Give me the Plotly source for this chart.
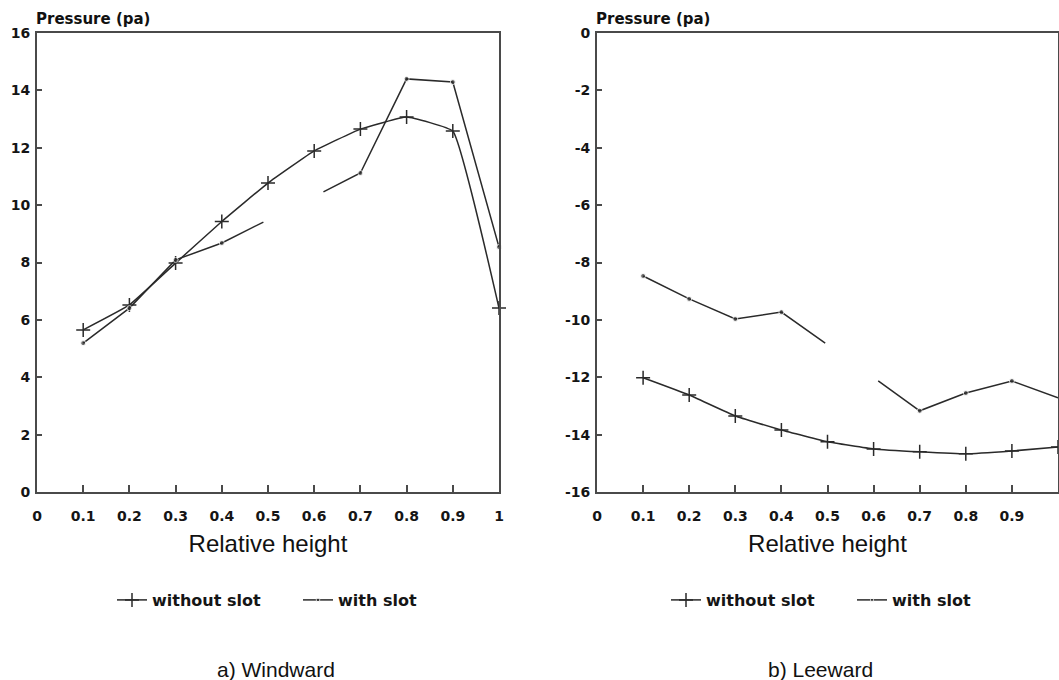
import plotly.graph_objects as go

# ---------------- data ----------------
heights = [0.1, 0.2, 0.3, 0.4, 0.5, 0.6, 0.7, 0.8, 0.9, 1.0]

# a) Windward
wind_without = [5.65, 6.52, 7.98, 9.43, 10.77, 11.89, 12.65, 13.07, 12.58, 6.41]
# with slot: the line is interrupted between x=0.49 and x=0.62
wind_with_x = [0.1, 0.2, 0.3, 0.4, 0.49, None, 0.62, 0.7, 0.8, 0.9, 1.0]
wind_with_y = [5.19, 6.41, 8.09, 8.68, 9.41, None, 10.46, 11.12, 14.40, 14.29, 8.54]
wind_with_marker = [1, 1, 1, 1, 0, 0, 0, 1, 1, 1, 1]

# b) Leeward
lee_without = [-12.02, -12.62, -13.35, -13.84, -14.25, -14.50, -14.60, -14.67, -14.57, -14.43]
lee_with_x = [0.1, 0.2, 0.3, 0.4, 0.495, None, 0.61, 0.7, 0.8, 0.9, 1.0]
lee_with_y = [-8.47, -9.27, -9.97, -9.73, -10.81, None, -12.13, -13.17, -12.55, -12.13, -12.72]
lee_with_marker = [1, 1, 1, 1, 0, 0, 0, 1, 1, 1, 0]

x_ticks = [0, 0.1, 0.2, 0.3, 0.4, 0.5, 0.6, 0.7, 0.8, 0.9, 1]
x_labels = ["0", "0.1", "0.2", "0.3", "0.4", "0.5", "0.6", "0.7", "0.8", "0.9", "1"]
wind_y_ticks = [0, 2, 4, 6, 8, 10, 12, 14, 16]
wind_y_labels = ["0", "2", "4", "6", "8", "10", "12", "14", "16"]
lee_y_ticks = [0, -2, -4, -6, -8, -10, -12, -14, -16]
lee_y_labels = ["0", "-2", "-4", "-6", "-8", "-10", "-12", "-14", "-16"]

series_names = ["without slot", "with slot"]
captions = ["a) Windward", "b) Leeward"]
y_title = "Pressure (pa)"
x_title = "Relative height"

# ---------------- style ----------------
W, H = 1059, 680
INK = "#2a2a2a"
FRAME = "#4a4a4a"
TICKFONT = dict(family="DejaVu Sans", size=14, color="#151515", weight="bold")
LEGFONT = dict(family="DejaVu Sans", size=16, color="#151515", weight="bold")

fig = go.Figure()

def add_panel(xa, ya, legend, without, with_x, with_y, with_m):
    fig.add_trace(go.Scatter(
        x=heights, y=without, mode="lines+markers", name=series_names[0],
        xaxis=xa, yaxis=ya, legend=legend,
        line=dict(color=INK, width=1.5, shape="spline", smoothing=0.3),
        marker=dict(symbol="cross-thin", size=10, color=INK,
                    line=dict(color=INK, width=1.5)),
        cliponaxis=False,
    ))
    fig.add_trace(go.Scatter(
        x=with_x, y=with_y, mode="lines+markers", name=series_names[1],
        xaxis=xa, yaxis=ya, legend=legend, connectgaps=False,
        line=dict(color=INK, width=1.5),
        marker=dict(symbol="circle", size=[5 * m for m in with_m], color=INK),
        cliponaxis=False,
    ))

add_panel("x", "y", "legend", wind_without, wind_with_x, wind_with_y, wind_with_marker)
add_panel("x2", "y2", "legend2", lee_without, lee_with_x, lee_with_y, lee_with_marker)

xd1 = [37 / W, 499 / W]
xd2 = [597 / W, 1058 / W]
yd = [(H - 492) / H, (H - 33) / H]

common_x = dict(
    range=[0, 1], tickmode="array", tickvals=x_ticks, ticktext=x_labels,
    ticks="inside", ticklen=7, tickwidth=1.5, tickcolor=FRAME,
    showline=True, linecolor=FRAME, linewidth=2, mirror=True,
    showgrid=False, zeroline=False, tickfont=TICKFONT, automargin=False,
    ticklabelstandoff=10,
    title=dict(text=x_title, font=dict(family="Liberation Sans", size=24, color="#111"),
               standoff=12),
)
common_y = dict(
    tickmode="array", ticks="inside", ticklen=5, tickwidth=1.5, tickcolor=FRAME,
    showline=True, linecolor=FRAME, linewidth=2, mirror=True, automargin=False,
    showgrid=False, zeroline=False, tickfont=TICKFONT, ticklabelstandoff=2,
)

legend_common = dict(orientation="h", xanchor="left", y=(H - 600) / H,
                     yanchor="middle", font=LEGFONT, bgcolor="rgba(0,0,0,0)",
                     itemwidth=30, entrywidth=141, entrywidthmode="pixels")

fig.update_layout(
    width=W, height=H, autosize=False,
    margin=dict(l=0, r=0, t=0, b=0, autoexpand=False),
    paper_bgcolor="white", plot_bgcolor="white",
    xaxis=dict(domain=xd1, anchor="y", **common_x),
    yaxis=dict(domain=yd, anchor="x", range=[0, 16],
               tickvals=wind_y_ticks, ticktext=wind_y_labels, **common_y),
    xaxis2=dict(domain=xd2, anchor="y2", **common_x),
    yaxis2=dict(domain=yd, anchor="x2", range=[-16, 0],
                tickvals=lee_y_ticks, ticktext=lee_y_labels, **common_y),
    legend=dict(x=112 / W, **legend_common),
    legend2=dict(x=666 / W, **legend_common),
    showlegend=True,
)

ann_font = dict(family="DejaVu Sans", size=15, color="#111")
fig.add_annotation(text="<b>" + y_title + "</b>", xref="paper", yref="paper",
                   x=34 / W, y=(H - 19) / H, xanchor="left", yanchor="middle",
                   showarrow=False, font=ann_font)
fig.add_annotation(text="<b>" + y_title + "</b>", xref="paper", yref="paper",
                   x=594 / W, y=(H - 19) / H, xanchor="left", yanchor="middle",
                   showarrow=False, font=ann_font)

cap_font = dict(family="Liberation Sans", size=21, color="#111")
fig.add_annotation(text=captions[0], xref="paper", yref="paper",
                   x=276 / W, y=(H - 669) / H, xanchor="center", yanchor="middle",
                   showarrow=False, font=cap_font)
fig.add_annotation(text=captions[1], xref="paper", yref="paper",
                   x=820 / W, y=(H - 669) / H, xanchor="center", yanchor="middle",
                   showarrow=False, font=cap_font)

fig.write_html("out.html", config={"displayModeBar": False},
               post_script="document.body.style.margin='0px';")
